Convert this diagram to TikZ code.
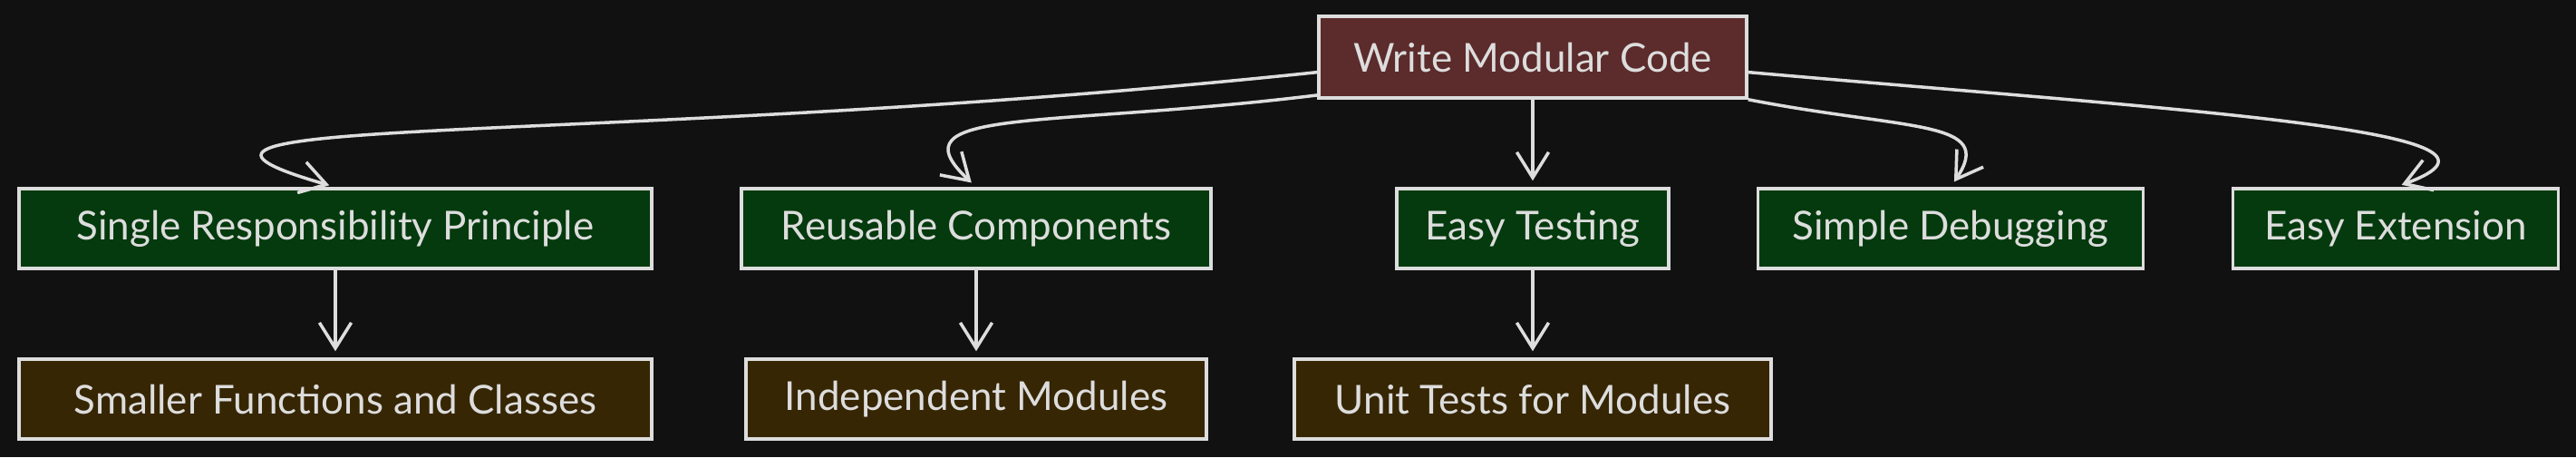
\documentclass[tikz,border=0pt]{standalone}
\usepackage{fontspec}
\setmainfont{Lato}
\usetikzlibrary{arrows.meta}
\definecolor{bgdark}{HTML}{111111}
\definecolor{inkgray}{HTML}{DDDDDD}
\definecolor{topred}{HTML}{5C2B2B}
\definecolor{midgreen}{HTML}{043A0D}
\definecolor{lowbrown}{HTML}{362604}

\begin{document}
\begin{tikzpicture}[line width=1pt,
	box/.style={draw=inkgray,text=inkgray,minimum height=0.88cm,inner sep=0pt,font=\fontsize{12.5}{15}\selectfont},
	link/.style={inkgray,-{Straight Barb[length=8pt,width=10pt]},shorten >=2pt}]
	\useasboundingbox[fill=bgdark] (0,0) rectangle (28.42,5.04);

	\node[box,fill=topred,minimum width=4.72cm,minimum height=0.90cm] (WMC) at (16.91,4.41) {Write Modular Code};

	\node[box,fill=midgreen,minimum width=6.98cm] (SRP) at (3.70,2.52) {Single Responsibility Principle};
	\node[box,fill=midgreen,minimum width=5.18cm] (RC) at (10.77,2.52) {Reusable Components};
	\node[box,fill=midgreen,minimum width=3.00cm] (ET) at (16.91,2.52) {Easy Testing};
	\node[box,fill=midgreen,minimum width=4.25cm] (SD) at (21.52,2.52) {Simple Debugging};
	\node[box,fill=midgreen,minimum width=3.59cm] (EE) at (26.43,2.52) {Easy Extension};

	\node[box,fill=lowbrown,minimum width=6.98cm] (SFC) at (3.70,0.64) {Smaller Functions and Classes};
	\node[box,fill=lowbrown,minimum width=5.08cm] (IM) at (10.77,0.64) {Independent Modules};
	\node[box,fill=lowbrown,minimum width=5.26cm] (UT) at (16.91,0.64) {Unit Tests for Modules};

	\draw [link] (WMC.184) to[out=186,in=164,out distance=8cm,in distance=3cm] (SRP.north);
	\draw [link] (WMC.190) to[out=187,in=137,out distance=3cm,in distance=1.3cm] (RC.north);
	\draw [link] (WMC.south) -- (ET.north);
	\draw [link] (WMC.south east) to[out=-11,in=56,out distance=1.8cm,in distance=0.9cm] (SD.north);
	\draw [link] (WMC.356) to[out=-5,in=20,out distance=5cm,in distance=1.8cm] (EE.north);

	\foreach \a/\b in {SRP/SFC,RC/IM,ET/UT}
		\draw [link] (\a.south) -- (\b.north);
\end{tikzpicture}
\end{document}
